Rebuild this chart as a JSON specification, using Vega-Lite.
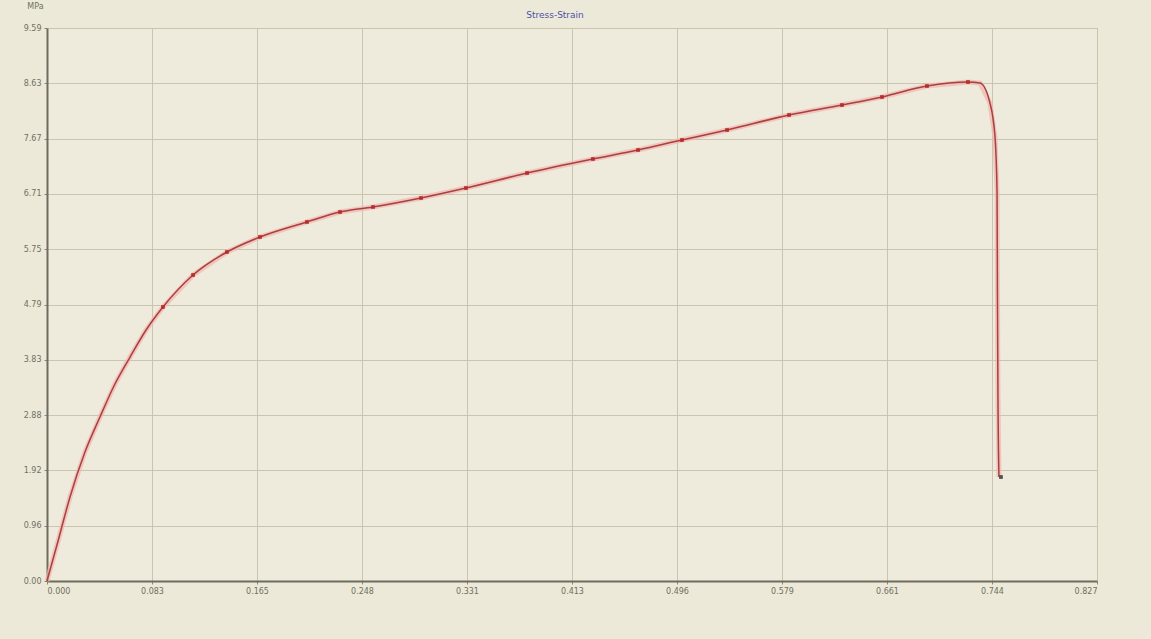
{
  "$schema": "https://vega.github.io/schema/vega-lite/v6.json",
  "width": 1050,
  "height": 553,
  "autosize": {"type": "none"},
  "padding": {"left": 47, "top": 28, "right": 54, "bottom": 58},
  "background": "#ECE9D8",
  "title": {"text": "Stress-Strain", "fontSize": 9, "font": "DejaVu Sans", "fontWeight": "normal", "color": "#5050a8", "anchor": "middle", "dx": -17, "offset": -18},
  "config": {
    "view": {"fill": "#EEEBDD", "stroke": "#a09e8e", "strokeWidth": 1},
    "axis": {
      "gridColor": "#c9c5b1", "gridOpacity": 1, "gridWidth": 1,
      "domainColor": "#6e6c5e", "domainWidth": 2,
      "tickColor": "#8a8878", "tickSize": 3,
      "labelFont": "DejaVu Sans", "labelFontSize": 8, "labelColor": "#707060",
      "titleFont": "DejaVu Sans", "titleFontSize": 8, "titleColor": "#707060", "titleFontWeight": "normal"
    }
  },
  "data": {"values": [
    {"i": 1, "strain": 0.0, "stress": 0.0},
    {"i": 2, "strain": 0.0087, "stress": 0.693},
    {"i": 3, "strain": 0.0181, "stress": 1.456},
    {"i": 4, "strain": 0.0299, "stress": 2.236},
    {"i": 5, "strain": 0.0417, "stress": 2.843},
    {"i": 6, "strain": 0.0535, "stress": 3.415},
    {"i": 7, "strain": 0.0654, "stress": 3.883},
    {"i": 8, "strain": 0.078, "stress": 4.351},
    {"i": 9, "strain": 0.0913, "stress": 4.75},
    {"i": 10, "strain": 0.115, "stress": 5.305},
    {"i": 11, "strain": 0.1417, "stress": 5.704},
    {"i": 12, "strain": 0.1677, "stress": 5.964},
    {"i": 13, "strain": 0.2047, "stress": 6.224},
    {"i": 14, "strain": 0.2307, "stress": 6.397},
    {"i": 15, "strain": 0.2567, "stress": 6.484},
    {"i": 16, "strain": 0.2945, "stress": 6.64},
    {"i": 17, "strain": 0.3299, "stress": 6.813},
    {"i": 18, "strain": 0.378, "stress": 7.073},
    {"i": 19, "strain": 0.4299, "stress": 7.316},
    {"i": 20, "strain": 0.4654, "stress": 7.472},
    {"i": 21, "strain": 0.5, "stress": 7.645},
    {"i": 22, "strain": 0.5355, "stress": 7.819},
    {"i": 23, "strain": 0.5843, "stress": 8.079},
    {"i": 24, "strain": 0.626, "stress": 8.252},
    {"i": 25, "strain": 0.6575, "stress": 8.391},
    {"i": 26, "strain": 0.6929, "stress": 8.581},
    {"i": 27, "strain": 0.7252, "stress": 8.651},
    {"i": 28, "strain": 0.7347, "stress": 8.633},
    {"i": 29, "strain": 0.7425, "stress": 8.287},
    {"i": 30, "strain": 0.7465, "stress": 7.697},
    {"i": 31, "strain": 0.7481, "stress": 6.726},
    {"i": 32, "strain": 0.7484, "stress": 4.993},
    {"i": 33, "strain": 0.7488, "stress": 3.259},
    {"i": 34, "strain": 0.7496, "stress": 1.803}
  ]},
  "encoding": {
    "x": {"field": "strain", "type": "quantitative",
      "scale": {"domain": [0, 0.8268], "nice": false, "zero": true},
      "axis": {"title": null, "values": [0, 0.08268, 0.16536, 0.24804, 0.33072, 0.4134, 0.49608, 0.57876, 0.66144, 0.74412, 0.8268], "format": ".3f", "labelPadding": 3}},
    "y": {"field": "stress", "type": "quantitative",
      "scale": {"domain": [0, 9.587], "nice": false},
      "axis": {"title": "MPa", "titleAngle": 0, "titleX": -12, "titleY": -22, "titleAlign": "center", "titleBaseline": "middle",
        "values": [0, 0.9587, 1.9174, 2.8761, 3.8348, 4.7935, 5.7522, 6.7109, 7.6696, 8.6283, 9.587], "format": ".2f", "labelPadding": 3}}
  },
  "layer": [
    {"mark": {"type": "line", "color": "#f2b4b0", "strokeWidth": 5, "opacity": 0.7}, "encoding": {"order": {"field": "i"}}},
    {"mark": {"type": "line", "color": "#a8403c", "strokeWidth": 1.5, "interpolate": "monotone"}, "encoding": {"order": {"field": "i"}}},
    {"transform": [{"filter": "datum.strain > 0.09 && datum.strain < 0.73"}],
     "mark": {"type": "square", "color": "#b52828", "size": 14, "opacity": 0.9}},
    {"transform": [{"filter": "datum.i == 34"}],
     "mark": {"type": "square", "color": "#505050", "size": 14, "opacity": 1, "xOffset": 2}}
  ]
}
